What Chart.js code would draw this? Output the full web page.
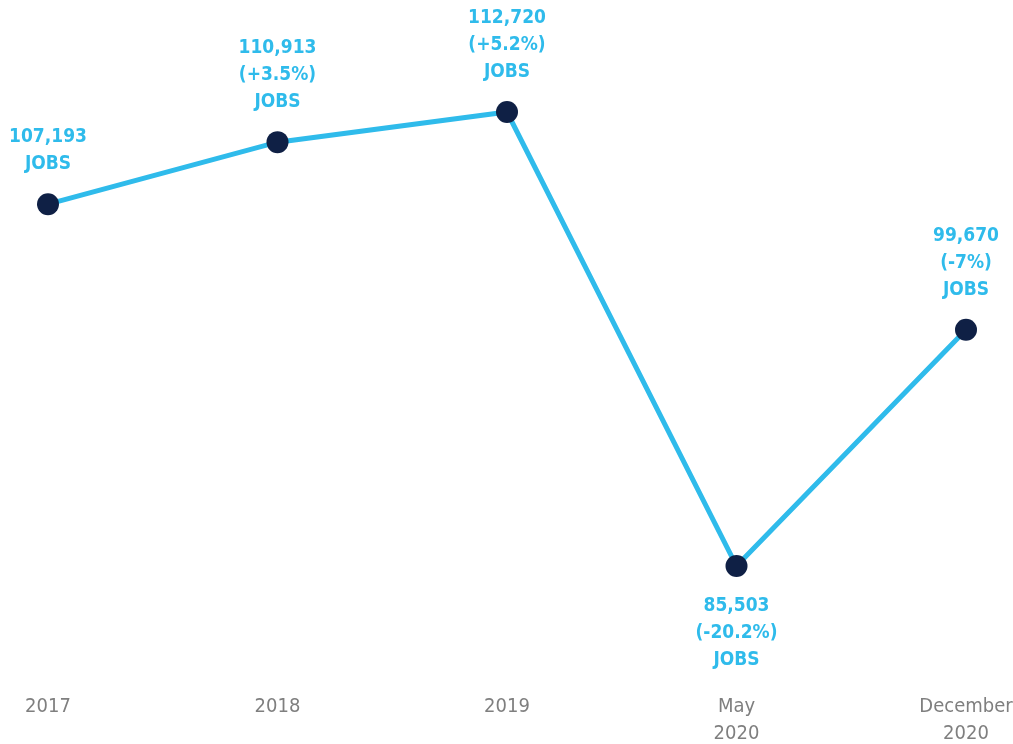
<!DOCTYPE html>
<html>
<head>
<meta charset="utf-8">
<script src="https://cdn.jsdelivr.net/npm/chart.js@4"></script>
<style>
  html, body { margin: 0; padding: 0; background: #fff; }
  #wrap { width: 1013px; height: 744px; }
</style>
</head>
<body>
<div id="wrap"><canvas id="jobsChart"></canvas></div>
<script>
// données du graphique
const categories = [['2017'], ['2018'], ['2019'], ['May', '2020'], ['December', '2020']];
const jobs = [107193, 110913, 112720, 85503, 99670];
const changes = ['', '(+3.5%)', '(+5.2%)', '(-20.2%)', '(-7%)'];
const labelBelow = [false, false, false, true, false];

const narrow = "'Liberation Sans Narrow', 'DejaVu Sans Condensed', sans-serif";
const blue = '#2fbbeb';
const navy = '#0f2045';

// étiquettes de valeurs au-dessus / en dessous des points
const valueLabels = {
    id: 'valueLabels',
    afterDatasetsDraw(chart) {
        const ctx = chart.ctx;
        const meta = chart.getDatasetMeta(0);
        ctx.save();
        ctx.font = 'bold 19px ' + narrow;
        ctx.fillStyle = blue;
        ctx.textAlign = 'center';
        ctx.textBaseline = 'middle';
        meta.data.forEach(function (pt, i) {
            const lines = [jobs[i].toLocaleString('en-US')];
            if (changes[i]) lines.push(changes[i]);
            lines.push('JOBS');
            const lh = 27;
            if (labelBelow[i]) {
                lines.forEach(function (t, k) {
                    ctx.fillText(t, pt.x, pt.y + 40 + k * lh);
                });
            } else {
                const n = lines.length;
                lines.forEach(function (t, k) {
                    ctx.fillText(t, pt.x, pt.y - 40 - (n - 1 - k) * lh);
                });
            }
        });
        ctx.restore();
    }
};

new Chart(document.getElementById('jobsChart'), {
    type: 'line',
    data: {
        labels: categories,
        datasets: [{
            data: jobs,
            borderColor: blue,
            borderWidth: 5,
            pointRadius: 11,
            pointHoverRadius: 11,
            pointBackgroundColor: navy,
            pointBorderColor: navy,
            pointBorderWidth: 0,
            tension: 0
        }]
    },
    options: {
        responsive: true,
        maintainAspectRatio: false,
        animation: false,
        layout: { padding: { left: 48, right: 47, top: 2, bottom: 0 } },
        plugins: {
            legend: { display: false },
            tooltip: { enabled: false }
        },
        scales: {
            x: {
                offset: false,
                border: { display: false },
                grid: { display: false, drawTicks: false },
                ticks: {
                    color: '#7f7f7f',
                    padding: 36,
                    maxRotation: 0,
                    autoSkip: false,
                    font: { family: narrow, size: 20, lineHeight: 1.35 }
                },
                afterFit: function (scale) {
                    // pas de marge automatique pour les étiquettes
                    scale.paddingLeft = 0;
                    scale.paddingRight = 0;
                    scale.paddingTop = 0;
                    scale.paddingBottom = 0;
                    scale.height = 87;
                }
            },
            y: {
                display: false,
                min: 80050,
                max: 118775
            }
        }
    },
    plugins: [valueLabels]
});
</script>
</body>
</html>
